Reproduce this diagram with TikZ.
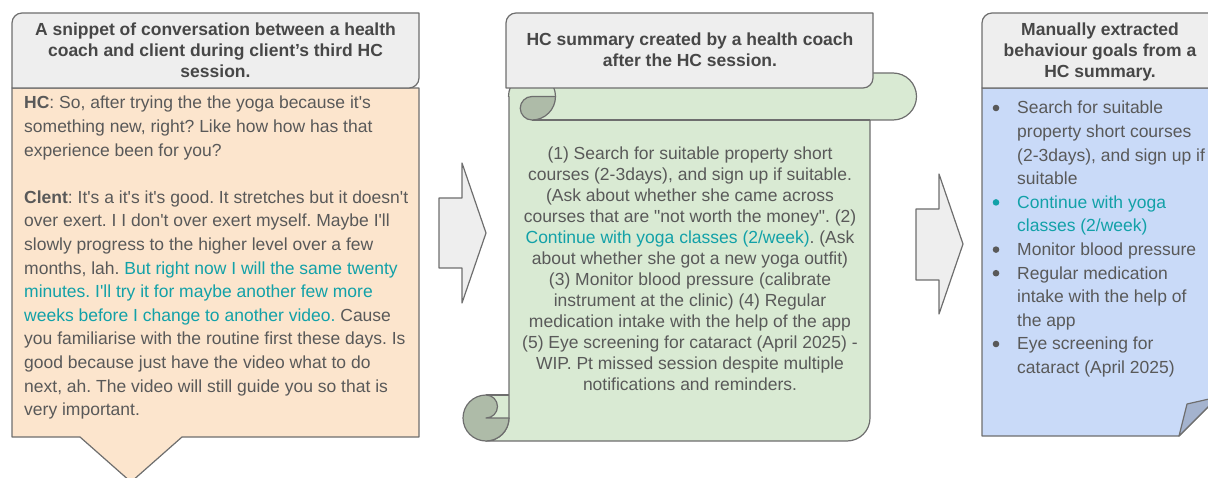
\documentclass[tikz,border=0pt]{standalone}
\usepackage{fontspec}
\setmainfont{Liberation Sans}[Ligatures=TeXOff]
\frenchspacing
\definecolor{edge}{HTML}{6E6E6E}
\definecolor{headfill}{HTML}{EEEEEE}
\definecolor{headtext}{HTML}{474747}
\definecolor{bodytext}{HTML}{595959}
\definecolor{accent}{HTML}{12A1A8}
\definecolor{peach}{HTML}{FCE5CD}
\definecolor{mint}{HTML}{D9EAD3}
\definecolor{mintdark}{HTML}{AEBBA8}
\definecolor{sky}{HTML}{C9DAF8}
\definecolor{skydark}{HTML}{A4B3CE}
\newcommand\hl[1]{\textcolor{accent}{#1}}
\begin{document}
\begin{tikzpicture}[x=1pt,y=-1pt,line join=round,
  outline/.style={draw=edge,line width=1.2pt},
  headbox/.style={outline,fill=headfill},
  blockarrow/.style={outline,fill=headfill},
  txt/.style={inner sep=0pt,text=bodytext,font=\fontsize{17.5}{23.6}\selectfont},
  headtxt/.style={inner sep=0pt,text=headtext,font=\bfseries\fontsize{17.5}{21}\selectfont}]
\useasboundingbox (0,0) rectangle (1208,478);
\clip (0,0) rectangle (1208,478);

% ---- conversation callout ----
\draw[outline,fill=peach] (12,88) -- (419,88) -- (419,437) -- (182,437) -- (131,482) -- (80,437) -- (12,437) -- cycle;
\draw[headbox] (12,88) -- (12,23) arc[start angle=180,end angle=270,radius=10] -- (419,13) -- (419,78) arc[start angle=0,end angle=90,radius=10] -- cycle;
\node[headtxt,anchor=base] (convohead) at (215.5,36) {\begin{minipage}[t]{400pt}\centering
A snippet of conversation between a health\\
coach and client during client’s third HC\\
session.\end{minipage}};
\node[txt,anchor=base west] (convo) at (24,109) {\begin{minipage}[t]{395pt}\raggedright
\textbf{HC}: So, after trying the the yoga because it's\\
something new, right? Like how how has that\\
experience been for you?\\[23.6pt]
\textbf{Clent}: It's a it's it's good. It stretches but it doesn't\\
over exert. I I don't over exert myself. Maybe I'll\\
slowly progress to the higher level over a few\\
months, lah. \hl{But right now I will the same twenty}\\
\hl{minutes. I'll try it for maybe another few more}\\
\hl{weeks before I change to another video.} Cause\\
you familiarise with the routine first these days. Is\\
good because just have the video what to do\\
next, ah. The video will still guide you so that is\\
very important.\end{minipage}};

% ---- first block arrow ----
\draw[blockarrow] (439,198) -- (462,198) -- (462,163) -- (486,233) -- (462,303) -- (462,268) -- (439,268) -- cycle;

% ---- summary scroll ----
\fill[mint] (486,395) rectangle (509,418);
\draw[outline,fill=mint] (509,96.5) -- (509,418) arc[start angle=0,end angle=90,radius=23]
  -- (847,441) arc[start angle=90,end angle=0,radius=23] -- (870,120) -- (893,120)
  arc[start angle=90,end angle=-90,radius=23.5] -- (532,73)
  arc[start angle=-90,end angle=-180,radius=23.5] -- cycle;
\draw[outline] (532,120) -- (870,120);
\draw[outline] (532,73) arc[start angle=-90,end angle=0,radius=23.5];
\draw[outline,fill=mintdark] (532,96.5) -- (555.5,96.5) arc[start angle=0,end angle=90,radius=23.5]
  arc[start angle=90,end angle=270,radius=11.75] -- cycle;
\draw[outline] (486,395) -- (509,395);
\draw[outline,fill=mintdark] (486,395) arc[start angle=-90,end angle=-360,radius=23] -- (486,418)
  arc[start angle=90,end angle=-90,radius=11.5] -- cycle;
\draw[headbox] (506,88) -- (506,23) arc[start angle=180,end angle=270,radius=10] -- (873,13) -- (873,78) arc[start angle=0,end angle=90,radius=10] -- cycle;
\node[headtxt,anchor=base] (sumhead) at (690,46) {\begin{minipage}[t]{360pt}\centering
HC summary created by a health coach\\
after the HC session.\end{minipage}};
\node[txt,anchor=base,font=\fontsize{17.5}{21}\selectfont] (summary) at (690,160) {\begin{minipage}[t]{380pt}\centering
(1) Search for suitable property short\\
courses (2-3days), and sign up if suitable.\\
(Ask about whether she came across\\
courses that are "not worth the money". (2)\\
\hl{Continue with yoga classes (2/week)}. (Ask\\
about whether she got a new yoga outfit)\\
(3) Monitor blood pressure (calibrate\\
instrument at the clinic) (4) Regular\\
medication intake with the help of the app\\
(5) Eye screening for cataract (April 2025) -\\
WIP. Pt missed session despite multiple\\
notifications and reminders.\end{minipage}};

% ---- second block arrow ----
\draw[blockarrow] (916,209) -- (939,209) -- (939,174) -- (963,244) -- (939,314) -- (939,280) -- (916,280) -- cycle;

% ---- extracted goals note ----
\draw[outline,fill=sky] (982,88) -- (1218,88) -- (1218,397) -- (1179,436) -- (982,436) -- cycle;
\draw[outline,fill=skydark] (1179,436) -- (1187,404) -- (1218,397) -- cycle;
\draw[headbox] (982,88) -- (982,23) arc[start angle=180,end angle=270,radius=10] -- (1218,13) -- (1218,88) -- cycle;
\node[headtxt,anchor=base] (goalhead) at (1100,36) {\begin{minipage}[t]{230pt}\centering
Manually extracted\\
behaviour goals from a\\
HC summary.\end{minipage}};
\node[txt,anchor=base west] (goals) at (1017,114) {\begin{minipage}[t]{200pt}\raggedright
Search for suitable\\
property short courses\\
(2-3days), and sign up if\\
suitable\\
\hl{Continue with yoga}\\
\hl{classes (2/week)}\\
Monitor blood pressure\\
Regular medication\\
intake with the help of\\
the app\\
Eye screening for\\
cataract (April 2025)\end{minipage}};
\foreach \i/\c in {0/bodytext,4/accent,6/bodytext,7/bodytext,10/bodytext}
  \fill[\c] (996,114+\i*23.6-6) circle (3.3);
\end{tikzpicture}
\end{document}
